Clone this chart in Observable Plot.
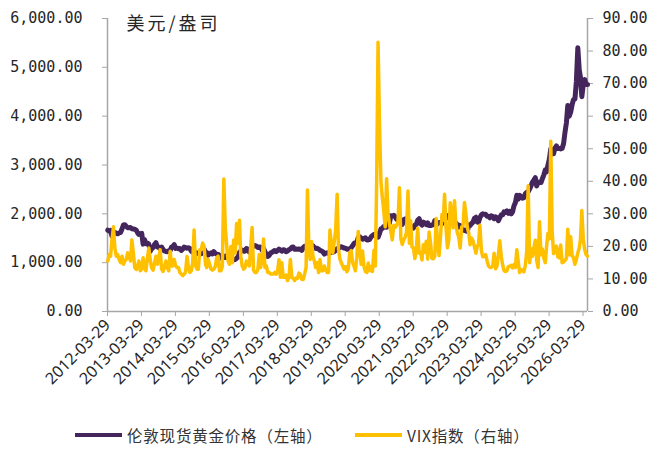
<!DOCTYPE html>
<html><head><meta charset="utf-8">
<script src="https://cdn.jsdelivr.net/npm/d3@7"></script>
<script src="https://cdn.jsdelivr.net/npm/@observablehq/plot@0.6"></script>
<style>
body{margin:0;background:#fff;}
#wrap{position:relative;width:666px;height:450px;overflow:hidden;}
#legend{position:absolute;top:423px;left:0;width:666px;height:24px;font-family:"Noto Sans CJK SC";font-size:15.5px;color:#333;letter-spacing:0.8px;}
.item{position:absolute;top:0;display:flex;align-items:center;height:24px;white-space:nowrap;}
.sw{width:47px;height:4px;margin-right:5px;}
</style></head><body><div id="wrap"><div id="chart"></div><div id="legend"></div></div>
<script>
// Semi-monthly samples (1st and 16th of each month), starting 2012-04-01
const gold2012 = [1665,1650,1660,1545,1620,1620,1600,1590,1610,1615,1690,1770,1775,1745,1715,1715,1720,1695];
const gold2013 = [1690,1685,1665,1610,1580,1595,1600,1380,1470,1390,1400,1380,1230,1285,1310,1370,1410,1320,1320,1280,1320,1270,1240,1230];
const gold2014 = [1225,1245,1250,1320,1330,1370,1290,1300,1285,1290,1250,1275,1320,1310,1295,1305,1290,1235,1215,1240,1175,1190,1200,1195];
const gold2015 = [1185,1265,1280,1215,1210,1155,1185,1200,1180,1225,1190,1175,1170,1150,1095,1090,1135,1105,1115,1180,1140,1085,1065,1060];
const gold2016 = [1065,1090,1120,1210,1235,1260,1235,1235,1290,1275,1215,1255,1320,1340,1350,1340,1310,1320,1315,1255,1290,1225,1175,1130];
const gold2017 = [1150,1200,1210,1235,1250,1225,1245,1280,1260,1235,1265,1255,1225,1240,1265,1280,1315,1320,1275,1280,1275,1280,1275,1250];
const gold2018 = [1305,1335,1345,1350,1320,1310,1330,1345,1310,1290,1295,1275,1250,1240,1225,1175,1200,1200,1190,1225,1215,1215,1225,1250];
const gold2019 = [1285,1290,1320,1325,1315,1300,1295,1275,1280,1285,1305,1345,1390,1410,1410,1520,1530,1500,1480,1495,1510,1465,1465,1475];
const gold2020 = [1525,1555,1580,1585,1590,1520,1600,1690,1700,1740,1730,1725,1780,1810,1960,1950,1970,1940,1890,1900,1880,1880,1780,1880];
const gold2021 = [1895,1830,1860,1780,1730,1730,1710,1770,1780,1870,1900,1800,1770,1830,1810,1780,1815,1760,1760,1770,1780,1860,1780,1800];
const gold2022 = [1820,1820,1800,1870,1910,1940,1920,1970,1880,1820,1850,1830,1810,1720,1770,1760,1710,1670,1660,1650,1640,1770,1760,1800];
const gold2023 = [1830,1910,1930,1830,1830,1920,1980,2000,1990,1990,1950,1950,1920,1960,1950,1900,1940,1920,1860,1920,1980,1980,2040,2030];
const gold2024 = [2060,2010,2050,2000,2040,2160,2230,2380,2300,2380,2350,2320,2330,2410,2440,2450,2510,2570,2650,2690,2740,2570,2650,2640];
const gold2025 = [2640,2720,2800,2900,2860,2990,3120,3330,3300,3230,3350,3390,3340,3340,3330,3340,3440,3670,3860,4220,4000,4080,4230,4340];
const gold2026 = [4350,4700,5400,4950,4800,4400,4650,4750,4650,4650];

const vix2012 = [15.5,17.5,17,22,26,19.5,17,17.5,16,15,17,14.5,15.5,16,18,17,15.5,22];
const vix2013 = [18,13.5,12.9,14,15.5,12.5,13,16.5,13.5,12.5,16.3,19.5,16,13.5,12.7,14.7,17,14.5,16.5,19,13,12.3,13.7,15.5];
const vix2014 = [13.5,12.5,18.5,14,14,16,14,13.5,13.5,12,11.5,11,11.5,12,16.9,13.5,12,12.5,15,25,14,13,13,19];
const vix2015 = [19,21,20,14.5,13.5,16,14.5,13,12.7,13,13.8,16.5,17,12.5,12.5,14,40.7,26,20.5,15.5,14.5,20,15,22];
const vix2016 = [18,27,21,28,17,14,13,13.5,15.5,15,14,20,25.8,12.7,12,12,13,17.5,13.5,16,22.3,13.5,14,12];
const vix2017 = [12,11.5,11.5,11.5,12,11.5,12.5,15.9,10.5,15,10.5,10.5,11.2,9.5,10.3,16,10.5,10.2,9.5,10.3,10.2,11.8,11.4,9.9];
const vix2018 = [9.8,11.5,13.5,37.3,22,16,21.5,17,15.5,13.5,15,12,16,12.5,12.5,14,12.8,12,12,25,20,18,21.5,25];
const vix2019 = [36,19,16,14.9,14,13,13.8,12.2,13.1,18,18.7,15,14,12.5,16.7,24.6,19,14.5,18.6,14,12.3,12,14.9,12.5];
const vix2020 = [13.8,12.3,18.8,14,40,82.7,57,40,35,31,26,40.8,30,27,24.5,22,26.5,25.8,26.4,27.4,38,22.5,20.6,22];
const vix2021 = [22.8,24.3,37,21,27.9,19.8,19.5,16.3,18.6,25.6,17.9,18.2,15.8,20.5,18.2,21.6,16.1,24.4,21.2,16.3,16.2,17,28.6,20.6];
const vix2022 = [17.2,22.8,29.8,28,36,26,19.6,22,33.4,30,25.7,34,27,24.2,22.8,19.5,26,26.3,33.5,30,25.8,24.1,20.5,22.6];
const vix2023 = [21.7,19.9,17.9,20,20.6,26.5,18.7,16.8,17,17.5,15.6,14,13.6,13.5,13.9,17.9,13.1,14,17.5,21.7,16.9,14.2,12.6,12.3];
const vix2024 = [12.5,13.8,13.9,14.2,13.4,14.4,13.5,19,15.4,12,12.9,12.7,12.2,14,18.6,38.6,15,19.3,17,19.5,21.9,15.6,13.5,27.6];
const vix2025 = [17.4,19.2,16.4,15,19.6,24,22.3,52.3,24.7,17.8,18.6,20.1,16.8,16.5,20.4,15,15.2,15.7,16.3,25.3,17.4,23,17.2,16.5];
const vix2026 = [14.5,16,18,19.5,22,31,22,19,17.5,17];

const goldTicks = [0,1000,2000,3000,4000,5000,6000];
const vixTicks = [0,10,20,30,40,50,60,70,80,90];
const xTickYears = [2012,2013,2014,2015,2016,2017,2018,2019,2020,2021,2022,2023,2024,2025,2026];
const goldName = "伦敦现货黄金价格（左轴）";
const vixName = "VIX指数（右轴）";
const unitLabel = "美元/盎司";

const gold = [].concat(gold2012,gold2013,gold2014,gold2015,gold2016,gold2017,gold2018,gold2019,gold2020,gold2021,gold2022,gold2023,gold2024,gold2025,gold2026);
const vix = [].concat(vix2012,vix2013,vix2014,vix2015,vix2016,vix2017,vix2018,vix2019,vix2020,vix2021,vix2022,vix2023,vix2024,vix2025,vix2026);
const data = gold.map((g,i)=>({date:new Date(Date.UTC(2012, 3 + Math.floor(i/2), i%2 ? 16 : 1)), gold:g, vix:vix[i]}));

const K = 6000/90;
const x0 = new Date(Date.UTC(2012,2,29)), x1 = new Date(Date.UTC(2026,4,16));
const xTicks = xTickYears.map(y=>new Date(Date.UTC(y,2,29)));
const axisColor = "#a6a6a6";

const chart = Plot.plot({
  width:666, height:415, marginLeft:107, marginRight:79, marginTop:18, marginBottom:104,
  style:{fontFamily:"DejaVu Sans Mono", fontSize:"15px", color:"#262626", background:"white", overflow:"visible"},
  x:{type:"utc", domain:[x0,x1]},
  y:{domain:[0,6000]},
  marks:[
    Plot.axisY(goldTicks, {anchor:"left", tickSize:5, tickPadding:20, tickFormat:d3.format(",.2f"), stroke:axisColor, label:null}),
    Plot.axisY(vixTicks.map(v=>v*K), {anchor:"right", tickSize:5, tickPadding:10, tickFormat:d=>(d/K).toFixed(2), stroke:axisColor, label:null}),
    Plot.axisX(xTicks, {anchor:"bottom", tickRotate:-45, tickSize:5, tickPadding:6, tickFormat:d3.utcFormat("%Y-%m-%d"), stroke:axisColor, label:null, fontFamily:"Noto Sans", fontSize:16}),
    Plot.ruleY([0], {stroke:axisColor, strokeWidth:1.5}),
    Plot.ruleX([x0,x1], {stroke:axisColor, strokeWidth:1.5}),
    Plot.lineY(data, {x:"date", y:"gold", stroke:"#44265d", strokeWidth:5, curve:"linear"}),
    Plot.lineY(data, {x:"date", y:d=>d.vix*K, stroke:"#ffc000", strokeWidth:3.5}),
    Plot.text([unitLabel], {frameAnchor:"top-left", dx:19, dy:-1, text:d=>d, fontFamily:"Noto Sans CJK SC", fontSize:18, fill:"#262626", lineAnchor:"top"})
  ]
});
d3.select(chart).selectAll("text").filter(function(){return this.textContent===unitLabel;}).style("letter-spacing","3px");
document.getElementById("chart").appendChild(chart);

const legend = d3.select("#legend");
const items = [{name:goldName, color:"#44265d", left:75},{name:vixName, color:"#ffc000", left:355}];
items.forEach(it=>{
  const g = legend.append("div").attr("class","item").style("left", it.left+"px");
  g.append("div").attr("class","sw").style("background", it.color);
  g.append("span").text(it.name);
});
</script></body></html>
